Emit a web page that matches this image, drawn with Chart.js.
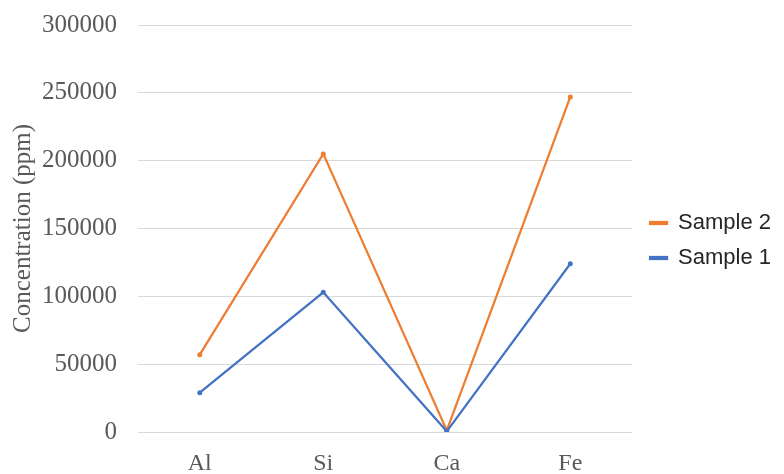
<!DOCTYPE html>
<html>
<head>
<meta charset="utf-8">
<title>Concentration</title>
<script src="https://cdn.jsdelivr.net/npm/chart.js@4/dist/chart.umd.min.js"></script>
<style>
    html, body { margin: 0; padding: 0; background: #ffffff; }
    #wrap { width: 784px; height: 474px; }
</style>
</head>
<body>
<div id="wrap"><canvas id="graficoLinhas" width="784" height="474"></canvas></div>
<script>
const elementos = ['Al', 'Si', 'Ca', 'Fe'];
const amostra1 = [29000, 103000, 500, 124000];
const amostra2 = [57000, 205000, 1200, 247000];
const yTicks = [0, 50000, 100000, 150000, 200000, 250000, 300000];

const corLaranja = '#ED7D31';
const corAzul = '#4472C4';
const corTexto = '#595959';
const corGrade = '#d9d9d9';
const fonteSerif = '"Liberation Serif", "Times New Roman", serif';

// desloca a legenda: um pouco para a direita e para cima
const ajusteLegenda = {
    id: 'ajusteLegenda',
    afterLayout(chart) {
        const legenda = chart.legend;
        if (legenda) {
            legenda.left += 5;
            legenda.right += 5;
            legenda.top -= 9;
            legenda.bottom -= 9;
        }
    }
};

const canvasContext = document.getElementById('graficoLinhas').getContext('2d');
new Chart(canvasContext, {
    type: 'line',
    data: {
        labels: elementos,
        datasets: [
            {
                label: 'Sample 1',
                data: amostra1,
                borderColor: corAzul,
                backgroundColor: corAzul,
                borderWidth: 2.25,
                pointRadius: 2.5,
                pointBorderWidth: 0,
                tension: 0,
            },
            {
                label: 'Sample 2',
                data: amostra2,
                borderColor: corLaranja,
                backgroundColor: corLaranja,
                borderWidth: 2.25,
                pointRadius: 2.5,
                pointBorderWidth: 0,
                tension: 0,
            },
        ]
    },
    options: {
        responsive: false,
        animation: false,
        layout: {
            padding: { top: 25, right: 8, bottom: 0, left: 0 }
        },
        scales: {
            x: {
                offset: true,
                grid: { display: false, drawTicks: false },
                border: { display: false },
                ticks: {
                    color: corTexto,
                    padding: 17,
                    font: { family: fonteSerif, size: 24 },
                },
                afterFit: (scale) => {
                    scale.height = 42;
                    scale.paddingLeft = 0;
                    scale.paddingRight = 0;
                },
            },
            y: {
                min: 0,
                max: 300000,
                afterBuildTicks: (scale) => {
                    scale.ticks = yTicks.map((v) => ({ value: v }));
                },
                grid: { color: corGrade, lineWidth: 1, drawTicks: false },
                border: { display: false },
                ticks: {
                    color: corTexto,
                    padding: 21,
                    font: { family: fonteSerif, size: 25 },
                    callback: (value) => String(value),
                },
                title: {
                    display: true,
                    text: 'Concentration (ppm)',
                    color: corTexto,
                    padding: { top: 8, bottom: 0 },
                    font: { family: fonteSerif, size: 25 },
                },
                afterFit: (scale) => {
                    scale.width = 138;
                    scale.paddingTop = 0;
                    scale.paddingBottom = 0;
                },
            }
        },
        plugins: {
            legend: {
                position: 'right',
                reverse: true,
                labels: {
                    color: '#262626',
                    boxWidth: 17,
                    boxHeight: 2,
                    padding: 13,
                    font: { family: '"Liberation Sans", Arial, sans-serif', size: 22 },
                }
            },
            tooltip: { enabled: false },
        }
    },
    plugins: [ajusteLegenda]
});
</script>
</body>
</html>
